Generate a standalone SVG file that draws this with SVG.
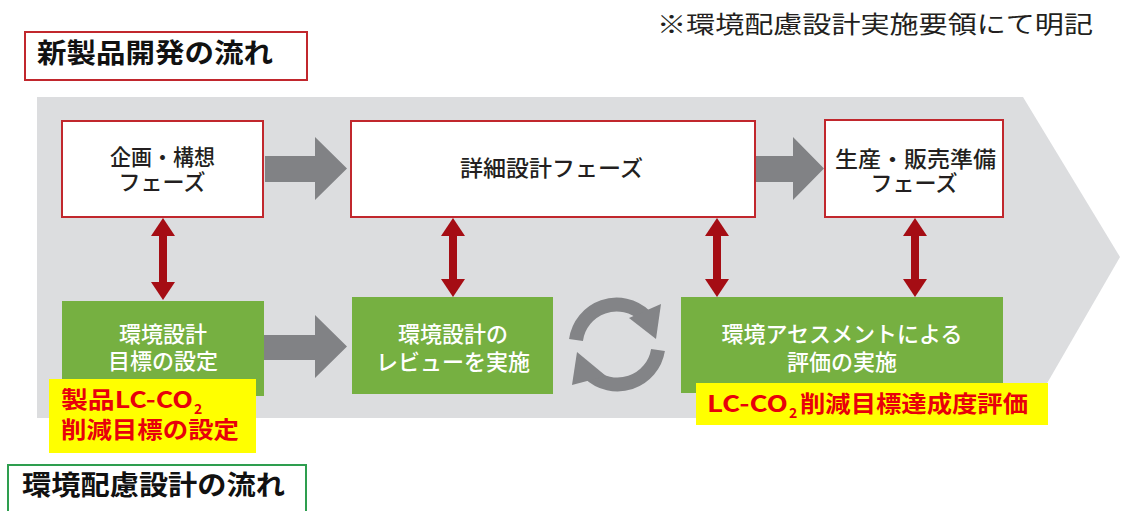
<svg xmlns="http://www.w3.org/2000/svg" width="1123" height="511" viewBox="0 0 1123 511">
<style>
  text { font-family: "Noto Sans CJK JP", "Noto Sans", sans-serif; }
  .phase { fill: #ffffff; stroke: #c1272d; stroke-width: 2; }
  .phase-t { font-size: 22px; font-weight: 500; fill: #231f20; }
  .mid { text-anchor: middle; }
  .green { fill: #76b041; }
  .green-t { font-size: 22px; font-weight: 500; fill: #ffffff; text-anchor: middle; }
  .yellow { fill: #ffff00; }
  .red-t { font-size: 23px; font-weight: 700; fill: #e8000b; }
  .sub { font-size: 14px; }
  .title { font-size: 27px; font-weight: 700; fill: #111111; }
  .gray-arrow { fill: #818285; }
  .red-arrow { stroke: #a50d14; stroke-width: 8; fill: none; marker-start: url(#rh); marker-end: url(#rh); }
  .cycle { fill: none; stroke: #838487; stroke-width: 14; }
  .cycle-head { fill: #838487; }
</style>
<defs>
  <marker id="rh" markerUnits="userSpaceOnUse" markerWidth="20" markerHeight="26" viewBox="0 -13 20 26" refX="8" refY="0" orient="auto-start-reverse">
    <path d="M0,-12 L18,0 L0,12 z" fill="#a50d14"/>
  </marker>
</defs>

<rect width="1123" height="511" fill="#ffffff"/>

<g id="background">
  <polygon points="37,97 1023,97 1120,257 1027,418 37,418" fill="#dcdddf"/>
</g>

<g id="title-new-product">
  <rect x="25" y="32" width="282" height="48" fill="#ffffff" stroke="#c1272d" stroke-width="2"/>
  <text class="title" x="37" y="63" textLength="236" lengthAdjust="spacingAndGlyphs">新製品開発の流れ</text>
</g>

<g id="note">
  <text x="657" y="33" font-size="24" fill="#231f20" textLength="436" lengthAdjust="spacingAndGlyphs">※環境配慮設計実施要領にて明記</text>
</g>

<g id="connectors">
  <polygon class="gray-arrow" points="265,156 315,156 315,137 347,168.5 315,200 315,182 265,182"/>
  <polygon class="gray-arrow" points="755,156 793,156 793,137 824,168.5 793,200 793,182 755,182"/>
  <polygon class="gray-arrow" points="264,335 315,335 315,315 347,346.5 315,378 315,360 264,360"/>
  <line class="red-arrow" x1="163" y1="228" x2="163" y2="290"/>
  <line class="red-arrow" x1="453" y1="228" x2="453" y2="287"/>
  <line class="red-arrow" x1="717" y1="228" x2="717" y2="287"/>
  <line class="red-arrow" x1="915" y1="228" x2="915" y2="287"/>
  <g id="cycle">
    <path class="cycle" d="M576,340 A41,41 0 0 1 645,316"/>
    <polygon class="cycle-head" points="661,304 629,318 656,339"/>
    <path class="cycle" d="M658,350 A41,41 0 0 1 589,373"/>
    <polygon class="cycle-head" points="572,385 606,376 577,352"/>
  </g>
</g>

<g id="phase-planning">
  <rect class="phase" x="62" y="121" width="201" height="96"/>
  <text class="phase-t"><tspan x="110" y="165" textLength="105" lengthAdjust="spacingAndGlyphs">企画・構想</tspan><tspan class="mid" x="162" y="190">フェーズ</tspan></text>
</g>

<g id="phase-detail">
  <rect class="phase" x="351" y="121" width="404" height="96"/>
  <text class="phase-t" x="460" y="176" textLength="183" lengthAdjust="spacingAndGlyphs">詳細設計フェーズ</text>
</g>

<g id="phase-production">
  <rect class="phase" x="825" y="120" width="178" height="97"/>
  <text class="phase-t"><tspan x="835" y="167" textLength="161" lengthAdjust="spacingAndGlyphs">生産・販売準備</tspan><tspan class="mid" x="914" y="191">フェーズ</tspan></text>
</g>

<g id="env-target">
  <rect class="green" x="62" y="301" width="202" height="95"/>
  <text class="green-t"><tspan x="163" y="342">環境設計</tspan><tspan x="163" y="369">目標の設定</tspan></text>
</g>

<g id="env-review">
  <rect class="green" x="352" y="297" width="201" height="97"/>
  <text class="green-t"><tspan x="453" y="342">環境設計の</tspan><tspan x="453" y="370">レビューを実施</tspan></text>
</g>

<g id="env-assessment">
  <rect class="green" x="681" y="297" width="322" height="96"/>
  <text class="green-t"><tspan x="842" y="342">環境アセスメントによる</tspan><tspan x="842" y="370">評価の実施</tspan></text>
</g>

<g id="label-target">
  <rect class="yellow" x="49" y="379" width="207" height="74"/>
  <text class="red-t"><tspan x="61" y="408" textLength="132" lengthAdjust="spacingAndGlyphs">製品LC-CO</tspan><tspan class="sub" x="194" y="414">2</tspan><tspan x="61" y="438" textLength="178" lengthAdjust="spacingAndGlyphs">削減目標の設定</tspan></text>
</g>

<g id="label-evaluation">
  <rect class="yellow" x="696" y="383" width="352" height="42"/>
  <text class="red-t"><tspan x="707" y="412" textLength="81" lengthAdjust="spacingAndGlyphs">LC-CO</tspan><tspan class="sub" x="789" y="418">2</tspan><tspan x="800" y="412" textLength="228" lengthAdjust="spacingAndGlyphs">削減目標達成度評価</tspan></text>
</g>

<g id="title-env-design">
  <rect x="8" y="465" width="298" height="60" fill="#ffffff" stroke="#2e9e4f" stroke-width="2"/>
  <text class="title" x="22" y="495" textLength="263" lengthAdjust="spacingAndGlyphs">環境配慮設計の流れ</text>
</g>
</svg>
